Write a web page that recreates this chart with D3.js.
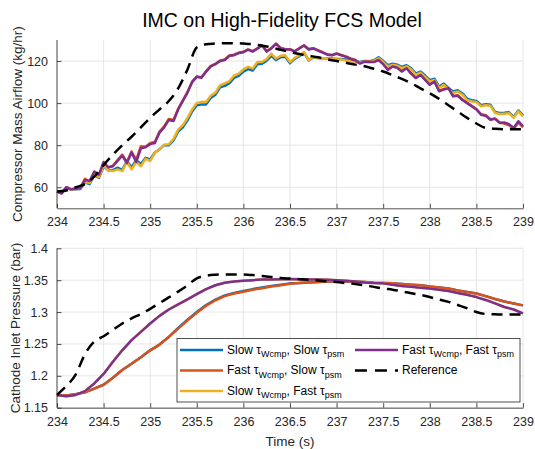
<!DOCTYPE html>
<html>
<head>
<meta charset="utf-8">
<script src="https://cdn.jsdelivr.net/npm/d3@7"></script>
<style>
  html, body { margin: 0; padding: 0; background: #fff; }
  svg { display: block; font-family: "Liberation Sans", Arial, Helvetica, sans-serif; }
</style>
</head>
<body>
<div id="chart"></div>
<script>
// --- datos ---
// flujo de aire: muestreo cada 0.05 s, presión y referencias cada 0.1 s
const tFine = d3.range(0, 101).map(i => 234 + i * 0.05);
const tCoarse = d3.range(0, 51).map(i => 234 + i * 0.1);

const seriesNames = ["slowSlow", "fastSlow", "slowFast", "fastFast"];
const seriesColors = ["#0072BD", "#D95319", "#EDB120", "#7E2F8E"];
const legendLabels = [
  ["Slow ", "Wcmp", ", Slow ", "psm"],
  ["Fast ", "Wcmp", ", Slow ", "psm"],
  ["Slow ", "Wcmp", ", Fast ", "psm"],
  ["Fast ", "Wcmp", ", Fast ", "psm"]
];

const airSlowSlow = [58,57.3,59.8,59,59,59.2,62.3,61.5,65.8,64.5,70,68,68.2,69.3,68.3,72.5,69.5,72.8,71,74,
  73.2,76.5,78,80,80,82.3,86.5,88.5,91.8,96,99,99.4,99.4,102.5,104,107.5,108.2,109.5,112,113,
  115,116.2,115.5,118.5,118.7,120.2,122.5,120.5,121.8,122,119,121,122.3,124,120.3,121.7,121.4,121.2,121.2,121.2,
  121,121,120.7,120.3,119.8,119.6,120,119.9,120.4,121.8,120,118,118.7,118.3,117.2,118,116.6,114,115,113.1,
  110.9,111.6,107.8,109.3,107.2,105.5,106.1,104.6,102.1,101.4,101,99,99.5,99.2,95.8,95.3,95.4,95.6,93.4,96.5,94.2];
const airFastSlow = [58,57.2,60,59,59.5,59.8,64,62.5,66.5,64.8,71.5,69.3,70.2,73,75.5,72,77,73,79.5,79.3,
  81,81.5,86.5,89,92.5,92,97.3,101.3,105.3,110.2,112.7,112.3,115.2,117.7,118.7,120.2,120.7,122.6,123,124,
  124.4,125.5,124.7,126,127.5,124.7,126.2,128.3,126.2,125.7,125.6,124.7,126.1,127.5,125.7,126.1,125.2,124.2,123.2,122.9,
  123.6,122.9,122.2,121.2,120.6,119,119.9,119.7,119.7,120.7,118.7,116,117.6,117,115.2,116.8,114.2,112.1,113.6,111.2,
  108.9,110.5,105.8,106.7,107.3,103.4,103.7,101.7,100.2,98.7,97.2,94.7,94.2,92.3,92.7,90.8,90.3,89.5,87.8,90.8,88.5];
const airSlowFast = [58,57.5,60,59.2,59,59.5,62.5,62,66,65,70.5,68,67.7,68.5,67.7,72,68.5,72,70,73.5,
  72.5,76.4,78,80.3,80.5,83,87.4,89.5,92.9,97,100,100.6,100.5,103.5,105,108.5,109.4,110.5,113,114,
  116,117.2,116.5,119.5,119.5,121,123.5,121.2,122.5,122.7,119.5,121.5,122.7,124.3,120.4,121.9,121.5,121.2,121.2,121,
  120.8,120.7,120.3,120,119.5,119.2,119.7,119.5,120,121.3,119.5,117.4,118.2,117.8,116.6,117.5,116,113.4,114.5,112.5,
  110.3,111,107.1,108.7,106.5,104.8,105.5,104,101.5,100.8,100.5,98.5,99,98.8,95.3,94.8,95,95.2,93,96.1,93.7];
const airFastFast = [58,57,60,59,59.3,59.5,63.5,63,67.5,66,72,69.5,70,72.5,75,71.5,76.5,72,78.5,79,
  80.5,81,86,88.5,92,91.5,97,101,105,110,112.5,112,115,117.5,118.5,120,120.5,122.5,122.8,123.8,
  124.2,125.4,124.5,125.9,127.4,124.5,126,128.2,126,125.5,125.5,124.5,126,127.4,125.5,126,125,124,123,122.7,
  123.5,122.7,122,121,120.4,118.8,119.7,119.5,119.5,120.5,118.5,115.8,117.4,116.8,115,116.6,114,111.9,113.4,111,
  108.7,110.3,105.6,106.5,107.1,103.2,103.5,101.5,100,98.5,97,94.5,94,92.1,92.5,90.6,90.8,90,88.2,91.4,89];
const airReference = [58,58.5,60,61.5,65,70.5,75.5,80,84,88.5,93,97,101,107,116,126.5,128,128.3,128.5,128.5,
  128.3,128,127.3,126.5,125.3,124.3,123.3,122.5,121.8,120.8,120,119.2,118.3,117.5,116.3,115,113.3,111.5,109.5,107,
  104.7,102,99,96,93,90.3,88.2,87.8,87.6,87.6,87.6];

const presSlowSlow = [1.170,1.169,1.171,1.174,1.180,1.186,1.197,1.209,1.219,1.229,1.240,1.249,1.261,1.275,1.288,1.300,1.311,1.3195,1.326,1.330,
  1.333,1.336,1.3385,1.341,1.343,1.345,1.3455,1.3465,1.347,1.348,1.3484,1.348,1.3475,1.347,1.346,1.3455,1.345,1.344,1.343,1.342,
  1.340,1.3385,1.337,1.334,1.3315,1.329,1.325,1.3205,1.3165,1.3135,1.3105];
const presFastSlow = [1.170,1.169,1.171,1.174,1.180,1.186,1.197,1.209,1.219,1.229,1.240,1.249,1.261,1.274,1.287,1.299,1.310,1.3185,1.325,1.329,
  1.332,1.335,1.3375,1.340,1.342,1.3445,1.3455,1.3465,1.347,1.348,1.3484,1.348,1.3475,1.347,1.346,1.3455,1.345,1.344,1.343,1.342,
  1.340,1.3385,1.337,1.334,1.3315,1.329,1.325,1.3205,1.3165,1.3135,1.3105];
const presSlowFast = [1.170,1.168,1.170,1.176,1.188,1.203,1.222,1.240,1.256,1.269,1.282,1.294,1.304,1.312,1.320,1.328,1.336,1.342,1.346,1.348,
  1.349,1.350,1.351,1.351,1.3515,1.352,1.3515,1.351,1.351,1.3505,1.350,1.349,1.348,1.3465,1.3455,1.345,1.343,1.341,1.3395,1.338,
  1.337,1.335,1.333,1.330,1.327,1.3235,1.319,1.3135,1.308,1.304,1.298];
const presFastFast = [1.170,1.168,1.170,1.176,1.188,1.203,1.222,1.240,1.256,1.269,1.282,1.294,1.304,1.312,1.320,1.328,1.336,1.342,1.346,1.348,
  1.349,1.350,1.351,1.351,1.3515,1.352,1.3515,1.351,1.351,1.3505,1.350,1.349,1.348,1.3465,1.3455,1.345,1.343,1.341,1.3395,1.338,
  1.337,1.335,1.333,1.330,1.327,1.3235,1.319,1.3135,1.308,1.304,1.298];
const presReference = [1.170,1.184,1.202,1.234,1.254,1.262,1.272,1.282,1.290,1.297,1.305,1.314,1.323,1.332,1.342,1.353,1.357,1.3585,1.359,1.359,
  1.359,1.358,1.3565,1.355,1.3535,1.3525,1.3515,1.3505,1.3495,1.348,1.347,1.3455,1.344,1.342,1.3395,1.337,1.335,1.3325,1.3295,1.327,
  1.3235,1.3195,1.316,1.311,1.306,1.300,1.297,1.2965,1.296,1.296,1.296];

const xTicks = d3.range(0, 11).map(i => 234 + i * 0.5);
const airTicks = [60, 80, 100, 120];
const presTicks = [1.15, 1.2, 1.25, 1.3, 1.35, 1.4];

// --- dibujo ---
const W = 535, H = 449;
const axisColor = "#262626";
const gridColor = "#dfdfdf";

const svg = d3.select("#chart").append("svg")
  .attr("width", W).attr("height", H);

const x = d3.scaleLinear().domain([234, 239]).range([57, 523]);

function drawPanel(y, ticks, fmt, label, labelY, series, times, ref) {
  const [y0, y1] = y.range();
  const g = svg.append("g");

  // grilla
  g.selectAll(".vg").data(xTicks).join("line")
    .attr("x1", d => x(d)).attr("x2", d => x(d))
    .attr("y1", y0).attr("y2", y1)
    .attr("stroke", gridColor).attr("stroke-width", 0.8);
  g.selectAll(".hg").data(ticks).join("line")
    .attr("x1", x.range()[0]).attr("x2", x.range()[1])
    .attr("y1", d => y(d)).attr("y2", d => y(d))
    .attr("stroke", gridColor).attr("stroke-width", 0.8);

  // curvas
  const line = d3.line().x(d => x(d[0])).y(d => y(d[1]));
  series.forEach((vals, i) => {
    g.append("path")
      .datum(times.map((t, k) => [t, vals[k]]))
      .attr("d", line)
      .attr("fill", "none")
      .attr("stroke", seriesColors[i])
      .attr("stroke-width", 2.5)
      .attr("stroke-linejoin", "round");
  });
  g.append("path")
    .datum(tCoarse.map((t, k) => [t, ref[k]]))
    .attr("d", line.curve(d3.curveMonotoneX))
    .attr("fill", "none")
    .attr("stroke", "#000")
    .attr("stroke-width", 2.5)
    .attr("stroke-dasharray", "11,7");

  // ejes
  const xAxis = d3.axisBottom(x).tickValues(xTicks).tickSizeInner(-4.5).tickSizeOuter(0)
    .tickPadding(9).tickFormat(d3.format(""));
  const gx = g.append("g").attr("transform", `translate(0,${y0})`).call(xAxis);
  const yAxis = d3.axisLeft(y).tickValues(ticks).tickSizeInner(-4.5).tickSizeOuter(0)
    .tickPadding(9).tickFormat(fmt);
  const gy = g.append("g").attr("transform", `translate(${x.range()[0]},0)`).call(yAxis);
  [gx, gy].forEach(a => {
    a.select(".domain").attr("stroke", axisColor).attr("stroke-width", 0.8);
    a.selectAll(".tick line").attr("stroke", axisColor).attr("stroke-width", 0.8);
    a.selectAll(".tick text").attr("fill", axisColor)
      .style("font-size", "12.5px").style("font-family", "Liberation Sans, Arial, sans-serif");
  });
  gy.select(".domain").attr("d", `M0,${y0}V${y1}`);

  g.append("text")
    .attr("transform", `translate(${labelY},${(y0 + y1) / 2}) rotate(-90)`)
    .attr("text-anchor", "middle")
    .attr("fill", axisColor)
    .style("font-size", "13.5px")
    .text(label);
}

const yAir = d3.scaleLinear().domain([50, 130]).range([208.3, 40]);
const yPres = d3.scaleLinear().domain([1.15, 1.4]).range([407.7, 248.3]);

drawPanel(yAir, airTicks, d3.format(""), "Compressor Mass Airflow (kg/hr)", 22,
  [airSlowSlow, airFastSlow, airSlowFast, airFastFast], tFine, airReference);
drawPanel(yPres, presTicks, d => String(+d.toFixed(2)), "Cathode Inlet Pressure (bar)", 20,
  [presSlowSlow, presFastSlow, presSlowFast, presFastFast], tCoarse, presReference);

// título y etiqueta x
svg.append("text")
  .attr("x", 282).attr("y", 27)
  .attr("text-anchor", "middle")
  .attr("fill", "#000")
  .style("font-size", "19.5px")
  .text("IMC on High-Fidelity FCS Model");

svg.append("text")
  .attr("x", 290).attr("y", 446)
  .attr("text-anchor", "middle")
  .attr("fill", axisColor)
  .style("font-size", "13.5px")
  .text("Time (s)");

// --- leyenda ---
const leg = svg.append("g");
leg.append("rect")
  .attr("x", 177).attr("y", 338.5).attr("width", 343).attr("height", 63.5)
  .attr("fill", "#fff").attr("stroke", axisColor).attr("stroke-width", 0.8);

const legPos = [[180, 350], [180, 370.5], [180, 391], [355, 350]];
const legOrder = [0, 1, 2, 3];
legOrder.forEach((i, k) => {
  const [lx, ly] = legPos[k];
  leg.append("line")
    .attr("x1", lx).attr("x2", lx + 43).attr("y1", ly).attr("y2", ly)
    .attr("stroke", seriesColors[i]).attr("stroke-width", 2.5);
  const t = leg.append("text")
    .attr("x", lx + 47).attr("y", ly + 3.5)
    .attr("fill", "#000")
    .style("font-size", "12px");
  const parts = legendLabels[i];
  t.append("tspan").text(parts[0]);
  t.append("tspan").text("τ");
  t.append("tspan").attr("dy", 3.5).style("font-size", "9px").text(parts[1]);
  t.append("tspan").attr("dy", -3.5).text(parts[2]);
  t.append("tspan").text("τ");
  t.append("tspan").attr("dy", 3.5).style("font-size", "9px").text(parts[3]);
});
leg.append("line")
  .attr("x1", 355).attr("x2", 398).attr("y1", 370.5).attr("y2", 370.5)
  .attr("stroke", "#000").attr("stroke-width", 2.5)
  .attr("stroke-dasharray", "12,8");
leg.append("text")
  .attr("x", 402).attr("y", 374)
  .attr("fill", "#000")
  .style("font-size", "12px")
  .text("Reference");
</script>
</body>
</html>
